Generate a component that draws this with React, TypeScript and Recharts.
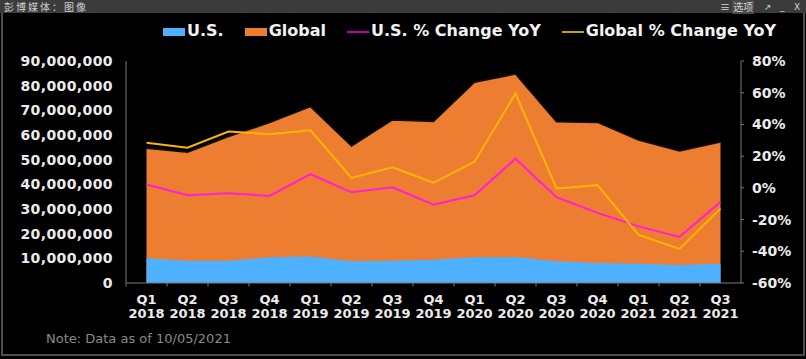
import React from 'react'
import { Area, ComposedChart, Legend, Line, XAxis, YAxis } from 'recharts'

const quarters = [
  'Q1 2018', 'Q2 2018', 'Q3 2018', 'Q4 2018',
  'Q1 2019', 'Q2 2019', 'Q3 2019', 'Q4 2019',
  'Q1 2020', 'Q2 2020', 'Q3 2020', 'Q4 2020',
  'Q1 2021', 'Q2 2021', 'Q3 2021',
]
const usValues = [
  10000000, 9000000, 9000000, 10400000, 10700000, 8800000, 9000000, 9400000,
  10400000, 10500000, 8800000, 8100000, 7800000, 7300000, 7800000,
]
const globalValues = [
  54600000, 53000000, 59400000, 65000000, 71500000, 55500000, 66100000, 65500000,
  81400000, 84700000, 65400000, 65100000, 58000000, 53500000, 57200000,
]
const usChange = [2.1, -4.7, -3.4, -5.1, 8.6, -2.8, 0.4, -10.6, -4.7, 18.4, -5.9, -15.8, -24.3, -30.9, -8.9]
const globalChange = [28.5, 25.3, 35.5, 33.8, 36.3, 6.3, 12.9, 3.2, 16.5, 59.5, -0.4, 1.7, -29.6, -38.5, -13.1]
const leftTicks = [0, 10000000, 20000000, 30000000, 40000000, 50000000, 60000000, 70000000, 80000000, 90000000]
const rightTicks = [-60, -40, -20, 0, 20, 40, 60, 80]

const data = quarters.map((quarter, i) => ({
  quarter,
  us: usValues[i],
  global: globalValues[i],
  usChange: usChange[i],
  globalChange: globalChange[i],
}))

const AXIS_FONT = '"DejaVu Sans", Verdana, sans-serif'
const AXIS_GRAY = '#7a7a7a'
const LABEL = '#ececec'

const legendItems = [
  { label: 'U.S.', color: '#4db1ff', kind: 'box' },
  { label: 'Global', color: '#ed7d31', kind: 'box' },
  { label: 'U.S. % Change YoY', color: '#b800b8', kind: 'line' },
  { label: 'Global % Change YoY', color: '#c9a000', kind: 'line' },
]

function ChartLegend() {
  return (
    <div style={{ display: 'flex', alignItems: 'center', fontFamily: AXIS_FONT, fontWeight: 'bold', fontSize: 16, color: '#f2f2f2', whiteSpace: 'nowrap' }}>
      {legendItems.map((item) => (
        <div key={item.label} style={{ display: 'flex', alignItems: 'center', marginRight: 21 }}>
          <span
            style={{
              display: 'inline-block',
              width: 22,
              height: item.kind === 'box' ? 8 : 2,
              background: item.color,
              marginRight: 2,
              marginTop: item.kind === 'box' ? 3 : 2,
            }}
          />
          <span>{item.label}</span>
        </div>
      ))}
    </div>
  )
}

// quarter on one line, year below; tick mark sits on the band boundary
function QuarterTick(props: any) {
  const { x, y, payload } = props
  const [q, yr] = String(payload.value).split(' ')
  const textProps = { textAnchor: 'middle' as const, fill: LABEL, fontSize: 13, fontWeight: 'bold', fontFamily: AXIS_FONT }
  return (
    <g>
      <line x1={x - 20.5} x2={x - 20.5} y1={y - 8} y2={y - 4.5} stroke={AXIS_GRAY} />
      <text x={x} y={y + 12.5} {...textProps}>{q}</text>
      <text x={x} y={y + 27} {...textProps}>{yr}</text>
    </g>
  )
}

const chromeText = { position: 'absolute' as const, top: 1, lineHeight: '12px', color: '#d4d4d4' }

export default function App() {
  return (
    <div style={{ position: 'absolute', left: 0, top: 0, width: 806, height: 359, background: '#000', overflow: 'hidden' }}>
      {/* window chrome */}
      <div style={{ position: 'absolute', left: 0, top: 0, width: 806, height: 13, background: '#3b3b3b', zIndex: 2 }}>
        <span style={{ ...chromeText, left: 4, fontFamily: '"Noto Sans CJK SC", sans-serif', fontSize: 10, letterSpacing: 2, color: '#cfcfcf' }}>
          彭博媒体：图像
        </span>
        <span style={{ ...chromeText, left: 720, fontFamily: '"Noto Sans CJK SC", sans-serif', fontSize: 10 }}>
          ≡ <span style={{ background: '#4a4a4a', padding: '0 1px' }}>选项</span>
        </span>
        <span style={{ ...chromeText, left: 764, fontFamily: '"DejaVu Sans", sans-serif', fontSize: 9 }}>↗</span>
        <span style={{ ...chromeText, left: 780, fontFamily: '"DejaVu Sans", sans-serif', fontSize: 9 }}>_</span>
        <span style={{ ...chromeText, left: 794, fontFamily: '"DejaVu Sans", sans-serif', fontSize: 9 }}>X</span>
      </div>
      <div style={{ position: 'absolute', left: 1, top: 13, width: 800, height: 341, borderLeft: '2px solid #4d4d4d', borderRight: '2px solid #4d4d4d', borderBottom: '2px solid #4d4d4d', zIndex: 2, pointerEvents: 'none' }} />

      <div style={{ position: 'absolute', left: 0, top: 0 }}>
        <ComposedChart width={806} height={359} data={data} margin={{ top: 61, right: 0, bottom: 0, left: 0 }}>
          <Legend
            layout="vertical"
            verticalAlign="middle"
            align="center"
            content={() => <ChartLegend />}
            wrapperStyle={{ left: 163, top: 21, width: 640 }}
          />
          <XAxis
            dataKey="quarter"
            height={76}
            interval={0}
            padding={{ left: 20.5, right: 20.5 }}
            stroke={AXIS_GRAY}
            tickLine={false}
            tick={<QuarterTick />}
          />
          <YAxis
            yAxisId="left"
            width={126}
            domain={[0, 90000000]}
            ticks={leftTicks}
            tickFormatter={(v: number) => v.toLocaleString('en-US')}
            stroke={AXIS_GRAY}
            tickLine={false}
            tickMargin={7}
            tick={{ fill: LABEL, fontSize: 14, fontWeight: 'bold', fontFamily: AXIS_FONT, letterSpacing: 0.4 }}
          />
          <YAxis
            yAxisId="right"
            orientation="right"
            width={65}
            domain={[-60, 80]}
            ticks={rightTicks}
            tickFormatter={(v: number) => `${v}%`}
            stroke={AXIS_GRAY}
            tickSize={3}
            tickMargin={8}
            tick={{ fill: LABEL, fontSize: 14, fontWeight: 'bold', fontFamily: AXIS_FONT }}
          />
          <Area
            yAxisId="left"
            type="linear"
            dataKey="global"
            fill="#ed7d31"
            fillOpacity={1}
            stroke="#111"
            strokeWidth={1.5}
            isAnimationActive={false}
          />
          <Area
            yAxisId="left"
            type="linear"
            dataKey="us"
            fill="#4db1ff"
            fillOpacity={1}
            stroke="none"
            isAnimationActive={false}
          />
          <Line
            yAxisId="right"
            type="linear"
            dataKey="usChange"
            stroke="#ff1fd6"
            strokeWidth={2}
            dot={false}
            isAnimationActive={false}
          />
          <Line
            yAxisId="right"
            type="linear"
            dataKey="globalChange"
            stroke="#ffb400"
            strokeWidth={2}
            dot={false}
            isAnimationActive={false}
          />
        </ComposedChart>
      </div>

      <div style={{ position: 'absolute', left: 46, top: 331, fontFamily: '"DejaVu Sans", sans-serif', fontSize: 13, lineHeight: '16px', color: '#8a8a8a', zIndex: 2 }}>
        Note: Data as of 10/05/2021
      </div>
    </div>
  )
}
